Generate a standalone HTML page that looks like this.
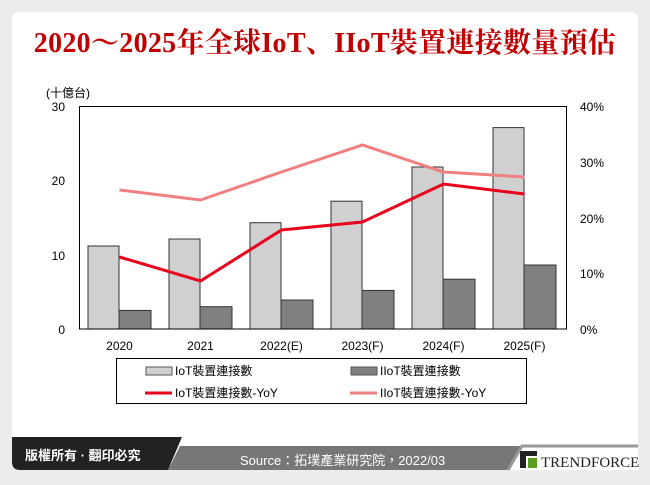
<!DOCTYPE html><html><head><meta charset="utf-8"><style>
body{margin:0;width:650px;height:485px;background:#ececec;font-family:"Liberation Sans","Noto Sans CJK TC",sans-serif;position:relative;overflow:hidden}
.card{position:absolute;left:12px;top:12px;width:626px;height:458px;background:#fff;border-radius:6px}
h1{position:absolute;left:0;width:650px;top:21px;margin:0;text-align:center;font:bold 28px "Liberation Serif","Noto Serif CJK SC",serif;color:#c00000;letter-spacing:0.3px}
</style></head><body>
<div class="card"></div>
<h1>2020～2025年全球IoT、IIoT裝置連接數量預估</h1>
<svg width="650" height="485" style="position:absolute;left:0;top:0" font-family="Liberation Sans, Noto Sans CJK TC, sans-serif" font-size="12">
<text x="46" y="97" font-size="12">(十億台)</text>
<g text-anchor="end"><text x="65" y="111">30</text><text x="65" y="185">20</text><text x="65" y="260">10</text><text x="65" y="334">0</text></g>
<g><text x="580" y="111">40%</text><text x="580" y="167">30%</text><text x="580" y="223">20%</text><text x="580" y="278">10%</text><text x="580" y="334">0%</text></g>
<g stroke="#333" stroke-width="1">
<rect x="88" y="246" width="31" height="83" fill="#d0d0d0"/><rect x="119" y="310.4" width="32" height="18.6" fill="#808080"/>
<rect x="169" y="239" width="31" height="90" fill="#d0d0d0"/><rect x="200" y="306.7" width="32" height="22.3" fill="#808080"/>
<rect x="250" y="222.7" width="31" height="106.3" fill="#d0d0d0"/><rect x="281" y="300" width="32" height="29" fill="#808080"/>
<rect x="331" y="201.2" width="31" height="127.8" fill="#d0d0d0"/><rect x="362" y="290.4" width="32" height="38.6" fill="#808080"/>
<rect x="412" y="167" width="31" height="162" fill="#d0d0d0"/><rect x="443" y="279.2" width="32" height="49.8" fill="#808080"/>
<rect x="493" y="127.6" width="31" height="201.4" fill="#d0d0d0"/><rect x="524" y="265" width="32" height="64" fill="#808080"/>
</g>
<rect x="79.5" y="106.5" width="487" height="222.5" fill="none" stroke="#000"/>
<polyline points="119.5,190 200.5,200 281.5,172 362.5,145 443.5,172 524.5,177" fill="none" stroke="#f08080" stroke-width="3"/>
<polyline points="119.5,257 200.5,281 281.5,230 362.5,222 443.5,184 524.5,194" fill="none" stroke="#e8001c" stroke-width="3"/>
<g text-anchor="middle"><text x="119.5" y="350">2020</text><text x="200.5" y="350">2021</text><text x="281.5" y="350">2022(E)</text><text x="362.5" y="350">2023(F)</text><text x="443.5" y="350">2024(F)</text><text x="524.5" y="350">2025(F)</text></g>
<rect x="116.5" y="358.5" width="410" height="45" fill="#fff" stroke="#000"/>
<rect x="146" y="367" width="26" height="8" fill="#d0d0d0" stroke="#555"/><text x="175" y="375">IoT裝置連接數</text>
<rect x="351" y="367" width="26" height="8" fill="#808080" stroke="#555"/><text x="380" y="375">IIoT裝置連接數</text>
<line x1="145" y1="393" x2="172" y2="393" stroke="#e8001c" stroke-width="3"/><text x="175" y="397">IoT裝置連接數-YoY</text>
<line x1="350" y1="393" x2="377" y2="393" stroke="#f08080" stroke-width="3"/><text x="380" y="397">IIoT裝置連接數-YoY</text>
<polygon points="180,446 522,446 510,470 168,470" fill="#777"/>
<path d="M12,437 L182,437 L168,470 L20,470 Q12,470 12,462 Z" fill="#222"/>
<polygon points="522,446 638,446 638,470 510,470" fill="#fff"/>
<polyline points="508,470 522,446 638,446" fill="none" stroke="#999" stroke-width="3"/>
<text x="25" y="460" fill="#fff" font-size="13" font-weight="bold">版權所有 · 翻印必究</text>
<text x="240" y="465" fill="#fff" font-size="13">Source：拓墣產業研究院，2022/03</text>
<rect x="520" y="451" width="6" height="17" fill="#222"/><rect x="520" y="451" width="17" height="5" fill="#222"/><rect x="528" y="458" width="9" height="10" fill="#5a9e1f"/>
<text x="541" y="467" font-family="Liberation Serif, serif" font-size="15" fill="#222">TRENDFORCE</text>
</svg>
</body></html>
